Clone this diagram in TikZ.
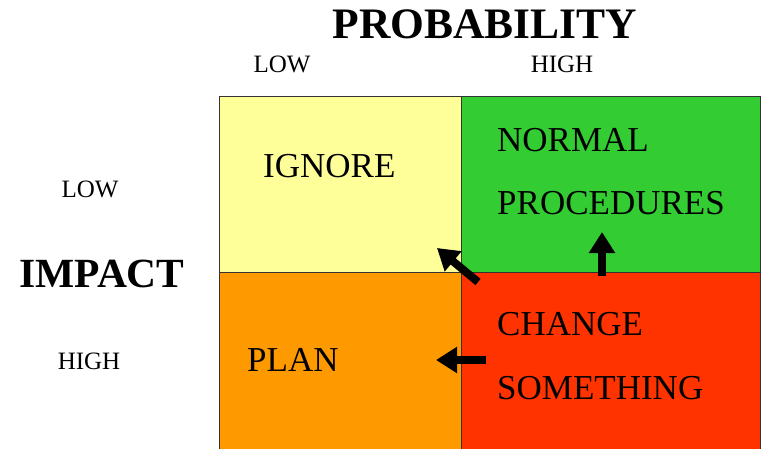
\documentclass[tikz,border=0pt]{standalone}
\usepackage{fontspec}
\setmainfont{Liberation Serif}
\usetikzlibrary{arrows.meta}
\definecolor{cellyellow}{HTML}{FFFF99}
\definecolor{cellgreen}{HTML}{33CC33}
\definecolor{cellorange}{HTML}{FF9900}
\definecolor{cellred}{HTML}{FF3300}
\definecolor{gridline}{HTML}{333333}
\tikzset{
  cell/.style={draw=gridline, line width=1pt, anchor=north west, inner sep=0pt},
  celltext/.style={anchor=base west, inner sep=0pt, font=\fontsize{35}{40}\selectfont},
  axistext/.style={anchor=base, inner sep=0pt, font=\fontsize{43.5}{48}\selectfont\bfseries},
  leveltext/.style={anchor=base, inner sep=0pt, font=\fontsize{25}{28}\selectfont},
  blockarrow/.style={line width=8pt, -{Triangle[length=21pt,width=25pt]}}
}
\begin{document}
\begin{tikzpicture}[x=1pt,y=-1pt]
\useasboundingbox[fill=white] (0,0) rectangle (761,448);
% the four cells of the matrix
\node[cell, fill=cellyellow, minimum width=242pt, minimum height=176pt] (ignorecell) at (219,96) {};
\node[cell, fill=cellgreen, minimum width=299pt, minimum height=176pt] (normalcell) at (461,96) {};
\node[cell, fill=cellorange, minimum width=242pt, minimum height=190pt] (plancell) at (219,272) {};
\node[cell, fill=cellred, minimum width=299pt, minimum height=190pt] (changecell) at (461,272) {};
% axis titles and levels
\node[axistext] (prob) at (485,38) {PROBABILITY};
\node[leveltext] (plow) at (282,72) {LOW};
\node[leveltext] (phigh) at (562,72) {HIGH};
\node[axistext, font=\fontsize{41.5}{46}\selectfont\bfseries] (impact) at (102,287) {IMPACT};
\node[leveltext] (ilow) at (90,197) {LOW};
\node[leveltext] (ihigh) at (89,369) {HIGH};
% cell labels
\node[celltext] (ignore) at (263,177) {IGNORE};
\node[celltext] (normal) at (497,151) {NORMAL};
\node[celltext] (procedures) at (497,214) {PROCEDURES};
\node[celltext] (change) at (497,335) {CHANGE};
\node[celltext] (something) at (497,399) {SOMETHING};
\node[celltext] (plan) at (247,371) {PLAN};
% arrows out of the red cell
\coordinate (diagtail) at (478,282);
\coordinate (diaghead) at (437,248);
\coordinate (uptail) at (602,276);
\coordinate (uphead) at (602,232);
\coordinate (lefttail) at (486,360);
\coordinate (lefthead) at (436,360);
\draw[blockarrow] (diagtail) -- (diaghead);
\draw[blockarrow] (uptail) -- (uphead);
\draw[blockarrow] (lefttail) -- (lefthead);
\end{tikzpicture}
\end{document}
